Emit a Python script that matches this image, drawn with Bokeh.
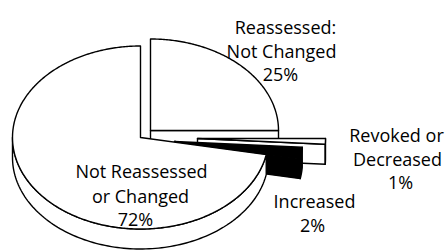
import numpy as np
from bokeh.plotting import figure
from bokeh.models import Range1d
from bokeh.core.properties import value
from bokeh.embed import file_html
from bokeh.resources import INLINE

# ---- data ----
categories = ["Reassessed: Not Changed", "Revoked or Decreased", "Increased", "Not Reassessed or Changed"]
percents = [25, 1, 2, 72]
label_lines = [["Reassessed:", "Not Changed", "25%"],
               ["Revoked or", "Decreased", "1%"],
               ["Increased", "2%"],
               ["Not Reassessed", "or Changed", "72%"]]

# ---- layout / style ----
fills = ["white", "white", "black", "white"]
CX, CY, RX, RY, DEPTH = 140.0, 137.0, 128.0, 91.5, 20.0
offsets = [(10, -7), (57, 1), (34, 4), (0, 0)]
label_x = [[285, 281, 280], [396, 397, 400], [314, 312], [141, 140, 135]]
label_y = [[26, 50, 73.5], [134.5, 158, 181.5], [200, 224], [170.5, 195, 218]]

W, H = 447, 250
p = figure(width=W, height=H, output_backend="svg", toolbar_location=None,
           x_range=Range1d(0, W), y_range=Range1d(H, 0), min_border=0)
p.axis.visible = False
p.grid.visible = False
p.outline_line_color = None
p.background_fill_color = "white"
p.border_fill_color = "white"

LW = 1.4


def rim(vx, vy, t):
    return vx + RX * np.cos(np.radians(t)), vy - RY * np.sin(np.radians(t))


def patch(xs, ys, fill):
    p.patch(list(xs), list(ys), fill_color=fill, line_color="black",
            line_width=LW, line_join="round")


total = float(sum(percents))
start = 90.0
for i, pct in enumerate(percents):
    hi = start
    lo = start - 360.0 * pct / total
    start = lo
    vx, vy = CX + offsets[i][0], CY + offsets[i][1]
    fill = fills[i]
    # cut faces
    for edge, vis in ((lo, np.cos(np.radians(lo)) > 1e-6), (hi, np.cos(np.radians(hi)) < -1e-6)):
        if vis:
            ex, ey = rim(vx, vy, edge)
            patch([vx, ex, ex, vx], [vy, ey, ey + DEPTH, vy + DEPTH], fill)
    # outer side face (front half)
    a0, a1 = max(lo, -180.0), min(hi, 0.0)
    if a1 > a0:
        t = np.linspace(a1, a0, 120)
        sx, sy = rim(vx, vy, t)
        patch(np.concatenate([sx, sx[::-1]]), np.concatenate([sy, (sy + DEPTH)[::-1]]), fill)
    # top face
    t = np.linspace(hi, lo, max(4, int(abs(hi - lo) * 1.5)))
    tx, ty = rim(vx, vy, t)
    patch(np.concatenate([[vx], tx]), np.concatenate([[vy], ty]), fill)

xs, ys, txt = [], [], []
for i in range(len(percents)):
    for j, s in enumerate(label_lines[i]):
        xs.append(label_x[i][j]); ys.append(label_y[i][j]); txt.append(s)
p.text(x=xs, y=ys, text=txt, text_font=value("Open Sans"), text_font_size=value("18px"),
       text_align="center", text_baseline="alphabetic", text_color="black")

open("out.html", "w").write(file_html(p, INLINE))
